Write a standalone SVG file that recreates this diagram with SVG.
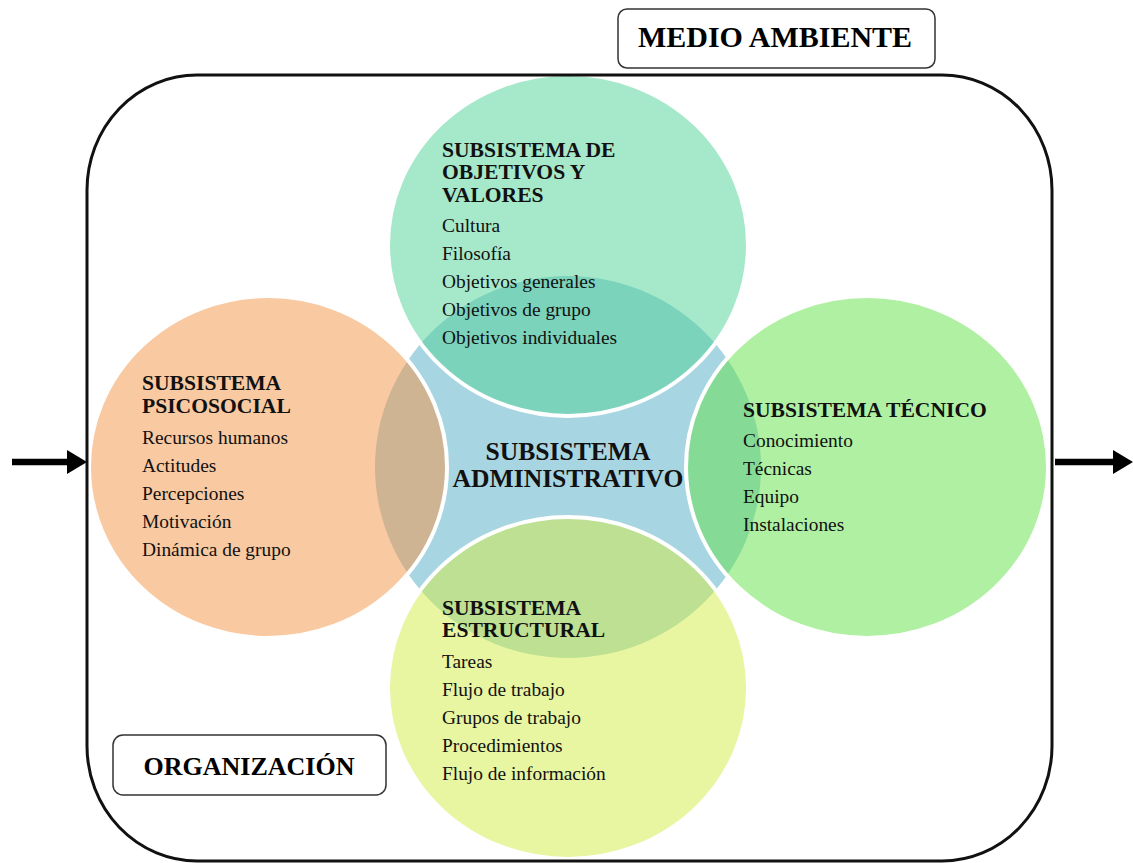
<svg xmlns="http://www.w3.org/2000/svg" width="1133" height="863" viewBox="0 0 1133 863">
<style>
.sub{stroke:#ffffff;stroke-width:4;fill-opacity:0.5}
.h{font-family:"Liberation Serif","Times New Roman",serif;font-weight:bold;font-size:21.6px;fill:#111}
.it{font-family:"Liberation Serif","Times New Roman",serif;font-size:19.4px;fill:#111}
.ctr{font-family:"Liberation Serif","Times New Roman",serif;font-weight:bold;font-size:25.6px;fill:#111;text-anchor:middle}
.lbl{font-family:"Liberation Serif","Times New Roman",serif;font-weight:bold;fill:#000;text-anchor:middle}
.box{fill:#ffffff;stroke:#333;stroke-width:1.5}
.arrow{fill:none;stroke:#000;stroke-width:6.5}
</style>
<defs>
<marker id="ah" markerUnits="userSpaceOnUse" markerWidth="20" markerHeight="24" refX="7" refY="12" orient="auto">
<path d="M0,0 L20,12 L0,24 z" fill="#000"/>
</marker>
</defs>
<rect width="1133" height="863" fill="#ffffff"/>
<g id="administrativo">
<ellipse cx="568" cy="467" rx="193" ry="191" fill="#a8d5e2"/>
</g>
<g id="objetivos">
<ellipse class="sub" cx="568" cy="245" rx="180" ry="171" fill="#4dd195"/>
<text class="h" x="442" y="157">SUBSISTEMA DE</text>
<text class="h" x="442" y="179">OBJETIVOS Y</text>
<text class="h" x="442" y="202">VALORES</text>
<text class="it" x="442" y="232">Cultura</text>
<text class="it" x="442" y="260">Filosofía</text>
<text class="it" x="442" y="288">Objetivos generales</text>
<text class="it" x="442" y="316">Objetivos de grupo</text>
<text class="it" x="442" y="344">Objetivos individuales</text>
</g>
<g id="psicosocial">
<ellipse class="sub" cx="268" cy="467" rx="179" ry="171" fill="#f39343"/>
<text class="h" x="142" y="390">SUBSISTEMA</text>
<text class="h" x="142" y="413">PSICOSOCIAL</text>
<text class="it" x="142" y="444">Recursos humanos</text>
<text class="it" x="142" y="472">Actitudes</text>
<text class="it" x="142" y="500">Percepciones</text>
<text class="it" x="142" y="528">Motivación</text>
<text class="it" x="142" y="556">Dinámica de grupo</text>
</g>
<g id="tecnico">
<ellipse class="sub" cx="867" cy="467" rx="181" ry="171" fill="#61e147"/>
<text class="h" x="743" y="417">SUBSISTEMA TÉCNICO</text>
<text class="it" x="743" y="447">Conocimiento</text>
<text class="it" x="743" y="475">Técnicas</text>
<text class="it" x="743" y="503">Equipo</text>
<text class="it" x="743" y="531">Instalaciones</text>
</g>
<g id="estructural">
<ellipse class="sub" cx="568" cy="688" rx="180" ry="171" fill="#d1eb43"/>
<text class="h" x="442" y="615">SUBSISTEMA</text>
<text class="h" x="442" y="637">ESTRUCTURAL</text>
<text class="it" x="442" y="668">Tareas</text>
<text class="it" x="442" y="696">Flujo de trabajo</text>
<text class="it" x="442" y="724">Grupos de trabajo</text>
<text class="it" x="442" y="752">Procedimientos</text>
<text class="it" x="442" y="780">Flujo de información</text>
</g>
<g id="administrativo-label">
<text class="ctr" x="568" y="460">SUBSISTEMA</text>
<text class="ctr" x="568" y="487">ADMINISTRATIVO</text>
</g>
<g id="organizacion-frame">
<rect x="87" y="75" width="965" height="786" rx="110" ry="115" fill="none" stroke="#111" stroke-width="3"/>
</g>
<g id="medio-ambiente">
<rect class="box" x="618" y="9" width="317" height="59" rx="9"/>
<text class="lbl" x="775" y="47" font-size="30">MEDIO AMBIENTE</text>
</g>
<g id="organizacion">
<rect class="box" x="113" y="735" width="273" height="60" rx="10"/>
<text class="lbl" x="249" y="775" font-size="26">ORGANIZACIÓN</text>
</g>
<g id="connectors">
<path class="arrow" d="M12,462 H74" marker-end="url(#ah)"/>
<path class="arrow" d="M1055,462 H1120" marker-end="url(#ah)"/>
</g>
</svg>
